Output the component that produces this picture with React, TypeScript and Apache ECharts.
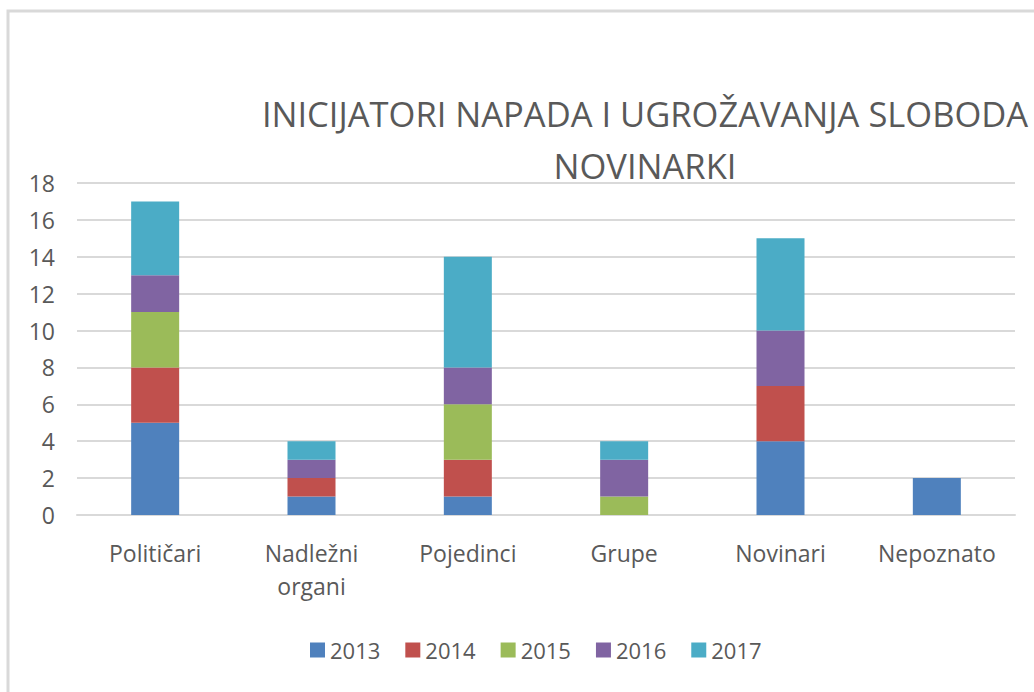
import React, { useEffect, useRef } from "react";
import * as echarts from "echarts";

const categories = ["Političari", "Nadležni\norgani", "Pojedinci", "Grupe", "Novinari", "Nepoznato"];
const years = ["2013", "2014", "2015", "2016", "2017"];
const v2013 = [5, 1, 1, 0, 4, 2];
const v2014 = [3, 1, 2, 0, 3, 0];
const v2015 = [3, 0, 3, 1, 0, 0];
const v2016 = [2, 1, 2, 2, 3, 0];
const v2017 = [4, 1, 6, 1, 5, 0];
const seriesValues = [v2013, v2014, v2015, v2016, v2017];
const colors = ["#4f81bd", "#c0504d", "#9bbb59", "#8064a2", "#4bacc6"];
const titleText = "INICIJATORI NAPADA I UGROŽAVANJA SLOBODA\nNOVINARKI";

const FONT = "'Open Sans', 'Noto Sans', sans-serif";

export default function App() {
  const ref = useRef<HTMLDivElement>(null);
  useEffect(() => {
    if (!ref.current) return;
    const chart = echarts.init(ref.current, null, { renderer: "svg" });
    chart.setOption({
      animation: false,
      backgroundColor: "#ffffff",
      color: colors,
      graphic: [
        {
          type: "rect",
          shape: { x: 8, y: 11, width: 1100, height: 800 },
          style: { fill: "none", stroke: "#d9d9d9", lineWidth: 3 },
          z: 0,
        },
        {
          type: "text",
          x: 645,
          y: 87,
          style: {
            text: titleText,
            font: `normal 34.5px ${FONT}`,
            fill: "#595959",
            align: "center",
            verticalAlign: "top",
            lineHeight: 52,
          },
          z: 10,
        },
      ],
      grid: { left: 77, right: 19, top: 183, height: 332, containLabel: false },
      legend: {
        data: years,
        top: 634,
        left: 305,
        itemWidth: 15,
        itemHeight: 15,
        itemGap: 25,
        icon: "rect",
        textStyle: { color: "#595959", fontSize: 22, fontFamily: FONT },
      },
      xAxis: {
        type: "category",
        data: categories,
        axisLine: { lineStyle: { color: "#d9d9d9", width: 2 } },
        axisTick: { show: false },
        axisLabel: {
          color: "#595959",
          fontSize: 23,
          fontFamily: FONT,
          margin: 21,
          lineHeight: 33,
          interval: 0,
        },
      },
      yAxis: {
        type: "value",
        min: 0,
        max: 18,
        interval: 2,
        axisLine: { show: false },
        axisTick: { show: false },
        splitLine: { lineStyle: { color: "#d9d9d9", width: 2 } },
        axisLabel: { color: "#595959", fontSize: 23, fontFamily: FONT, margin: 22 },
      },
      series: seriesValues.map((vals, i) => ({
        name: years[i],
        type: "bar",
        stack: "total",
        barWidth: 48,
        data: vals,
        itemStyle: { color: colors[i] },
      })),
    });
    return () => chart.dispose();
  }, []);
  return (
    <div
      ref={ref}
      style={{ position: "absolute", left: 0, top: 0, width: 1034, height: 692 }}
    />
  );
}
